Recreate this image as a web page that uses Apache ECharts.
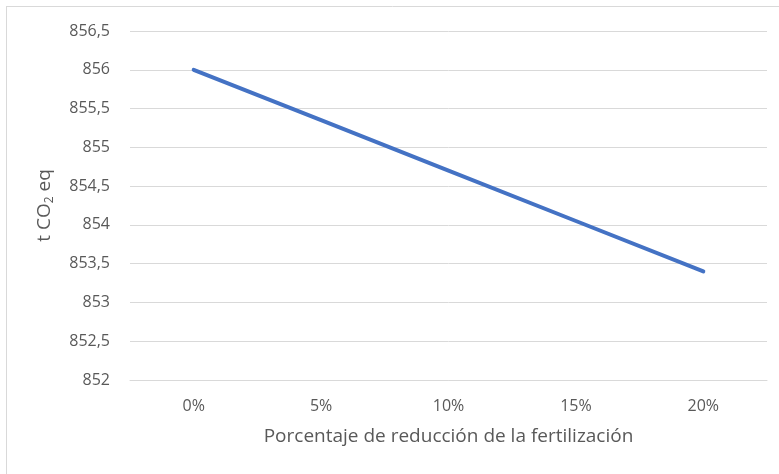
<!DOCTYPE html>
<html>
<head>
<meta charset="utf-8">
<title>Reducción de la fertilización</title>
<script src="https://cdn.jsdelivr.net/npm/echarts@6/dist/echarts.min.js"></script>
<style>
html, body { margin: 0; padding: 0; background: #fff; }
#chart { width: 779px; height: 474px; }
</style>
</head>
<body>
<div id="chart"></div>
<script>
// categorías del eje X
var categorias = ['0%', '5%', '10%', '15%', '20%'];
// t CO2 eq
var emisiones = [856, 855.35, 854.7, 854.05, 853.4];

var chart = echarts.init(document.getElementById('chart'));

function coma(v) {
	return String(v).replace('.', ',');
}

var option = {
	animation: false,
	textStyle: { fontFamily: 'Open Sans' },
	graphic: [
		{ type: 'line', shape: { x1: 6, y1: 6.5, x2: 779, y2: 6.5 }, style: { stroke: '#d9d9d9', lineWidth: 1 } },
		{ type: 'line', shape: { x1: 6.5, y1: 6, x2: 6.5, y2: 474 }, style: { stroke: '#d9d9d9', lineWidth: 1 } }
	],
	grid: { left: 130, right: 12, top: 31, bottom: 94 },
	xAxis: {
		type: 'category',
		data: categorias,
		boundaryGap: true,
		axisLine: { lineStyle: { color: '#d9d9d9', width: 1 } },
		axisTick: { show: false },
		axisLabel: { color: '#595959', fontSize: 16, margin: 18 },
		name: 'Porcentaje de reducción de la fertilización',
		nameLocation: 'middle',
		nameGap: 47,
		nameTextStyle: { color: '#595959', fontSize: 19 }
	},
	yAxis: {
		type: 'value',
		min: 852,
		max: 856.5,
		interval: 0.5,
		axisLine: { show: false },
		axisTick: { show: false },
		splitLine: { lineStyle: { color: '#d9d9d9', width: 1 } },
		axisLabel: { color: '#595959', fontSize: 16, margin: 20, formatter: coma },
		name: '{a|t CO}{s|2}{a| eq}',
		nameLocation: 'middle',
		nameGap: 74,
		nameRotate: 90,
		nameTextStyle: {
			rich: {
				a: { color: '#595959', fontSize: 19, fontFamily: 'Open Sans' },
				s: { color: '#595959', fontSize: 12, fontFamily: 'Open Sans', verticalAlign: 'bottom', padding: [10, 0, 0, 0] }
			}
		}
	},
	series: [{
		type: 'line',
		data: emisiones,
		symbol: 'none',
		lineStyle: { color: '#4472c4', width: 4, cap: 'round' }
	}]
};

chart.setOption(option);
</script>
</body>
</html>
